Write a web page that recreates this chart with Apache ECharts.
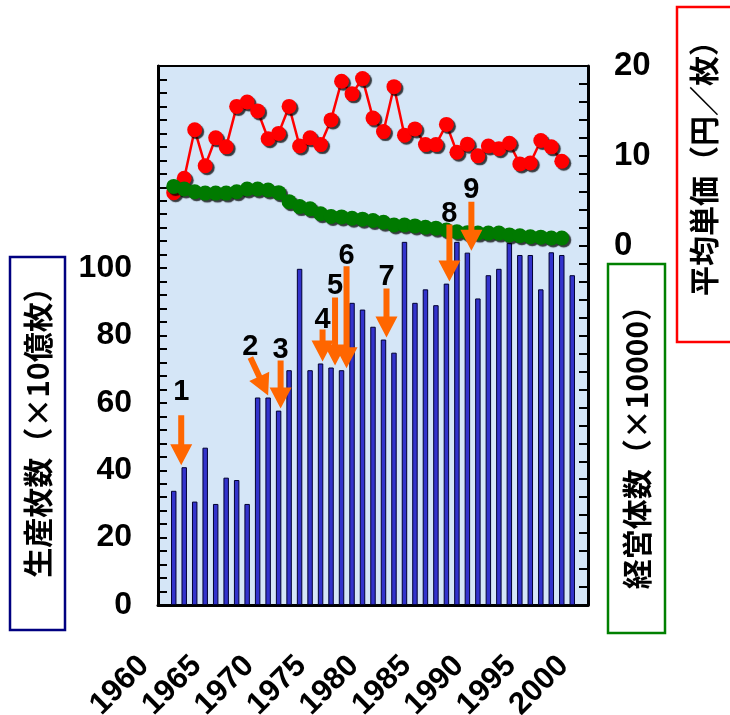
<!DOCTYPE html>
<html>
<head>
<meta charset="utf-8">
<script src="https://cdn.jsdelivr.net/npm/echarts@6.0.0/dist/echarts.min.js"></script>
<style>
  html, body { margin: 0; padding: 0; background: #fff; }
  #chart { width: 730px; height: 715px; }
</style>
</head>
<body>
<div id="chart"></div>
<script>
// 年（1960〜2000）
var years = ['1960', '1961', '1962', '1963', '1964', '1965', '1966', '1967', '1968', '1969',
  '1970', '1971', '1972', '1973', '1974', '1975', '1976', '1977', '1978', '1979',
  '1980', '1981', '1982', '1983', '1984', '1985', '1986', '1987', '1988', '1989',
  '1990', '1991', '1992', '1993', '1994', '1995', '1996', '1997', '1998', '1999', '2000'];

// 生産枚数（×10億枚）
var production = [null, 33.9, 40.9, 30.7, 46.7, 30.0, 37.8, 37.1, 30.0, 61.6,
  61.6, 57.7, 69.7, 99.8, 69.7, 71.7, 70.5, 69.7, 89.7, 87.7,
  82.6, 78.8, 74.9, 107.8, 89.7, 93.7, 89.0, 95.4, 107.8, 104.6,
  91.0, 97.9, 99.8, 107.5, 103.9, 103.9, 93.7, 104.7, 103.9, 97.9, null];

// 平均単価（円／枚）
var price = [null, 5.9, 7.5, 12.9, 8.9, 12.0, 11.0, 15.5, 16.0, 15.0,
  11.9, 12.5, 15.5, 11.1, 12.0, 11.25, 14.0, 18.3, 16.9, 18.6,
  14.2, 12.7, 17.7, 12.3, 13.0, 11.25, 11.25, 13.5, 10.4, 11.3,
  10.0, 11.1, 10.8, 11.4, 9.1, 9.2, 11.7, 11.0, 9.4, null, null];

// 経営体数（×10000）
var farms = [null, 6.6, 6.3, 6.0, 5.85, 5.85, 5.85, 6.0, 6.3, 6.3,
  6.2, 5.9, 4.9, 4.35, 4.1, 3.55, 3.25, 3.2, 3.05, 2.95,
  2.8, 2.6, 2.3, 2.3, 2.2, 2.05, 1.95, 1.75, 1.55, 1.45,
  1.4, 1.4, 1.4, 1.2, 1.1, 1.0, 0.95, 0.85, 0.85, null, null];

// 目盛ラベル
var xTickLabels = ['1960', '1965', '1970', '1975', '1980', '1985', '1990', '1995', '2000'];
var leftTickLabels = [0, 20, 40, 60, 80, 100];
var rightTickLabels = [0, 10, 20];

// 矢印の番号と指している年
var arrowNames = ['1', '2', '3', '4', '5', '6', '7', '8', '9'];
var arrowYears = ['1962', '1970', '1971', '1975', '1976', '1977', '1981', '1987', '1989'];

var chart = echarts.init(document.getElementById('chart'));

var numFont = 'Liberation Sans, Arial, sans-serif';
var jpFont = '"Noto Sans CJK JP", sans-serif';
var dotShadow = {
  shadowColor: 'rgba(0,0,0,0.75)',
  shadowOffsetX: 2,
  shadowOffsetY: 2,
  shadowBlur: 1
};

var option = {
  animation: false,
  grid: {
    left: 158, right: 142, top: 66, bottom: 110,
    show: true,
    backgroundColor: '#d5e6f7',
    borderColor: '#000',
    borderWidth: 2,
    outerBoundsMode: 'none'
  },
  xAxis: {
    type: 'category',
    data: years,
    axisLine: { lineStyle: { color: '#000', width: 3 } },
    axisTick: { inside: true, length: 8, interval: 0, lineStyle: { color: '#000', width: 2 } },
    axisLabel: {
      interval: 0,
      rotate: 45,
      margin: 37,
      padding: [0, 27, 0, 0],
      color: '#000',
      fontSize: 31,
      fontWeight: 'bold',
      fontFamily: numFont,
      formatter: function(v) {
        return xTickLabels.indexOf(v) >= 0 ? v : '';
      }
    },
    splitLine: { show: false }
  },
  yAxis: [{
    type: 'value',
    position: 'left',
    min: 0,
    max: 160,
    interval: 4,
    axisLine: { show: true, lineStyle: { color: '#000', width: 3 } },
    axisTick: { show: true, inside: true, length: 9, lineStyle: { color: '#000', width: 2 } },
    axisLabel: {
      margin: 26,
      color: '#000',
      fontSize: 32,
      fontWeight: 'bold',
      fontFamily: numFont,
      formatter: function(v) {
        return leftTickLabels.indexOf(v) >= 0 ? String(v) : '';
      }
    },
    splitLine: { show: false }
  }, {
    type: 'value',
    position: 'right',
    min: -40,
    max: 20,
    interval: 2,
    axisLine: { show: true, lineStyle: { color: '#000', width: 3 } },
    axisTick: { show: true, inside: true, length: 9, lineStyle: { color: '#000', width: 2 } },
    axisLabel: {
      margin: 26,
      color: '#000',
      fontSize: 33,
      fontWeight: 'bold',
      fontFamily: numFont,
      formatter: function(v) {
        return rightTickLabels.indexOf(v) >= 0 ? String(v) : '';
      }
    },
    splitLine: { show: false }
  }],
  series: [{
    name: '生産枚数',
    type: 'bar',
    yAxisIndex: 0,
    data: production,
    barWidth: '52%',
    itemStyle: { color: '#3333cc', borderColor: '#000033', borderWidth: 1 },
    z: 2
  }, {
    name: '平均単価',
    type: 'line',
    yAxisIndex: 1,
    data: price,
    symbol: 'circle',
    symbolSize: 15,
    showAllSymbol: true,
    lineStyle: { color: '#ff0000', width: 2.5 },
    itemStyle: Object.assign({ color: '#ff0000' }, dotShadow),
    z: 3
  }, {
    name: '経営体数',
    type: 'line',
    yAxisIndex: 1,
    data: farms,
    symbol: 'circle',
    symbolSize: 15,
    showAllSymbol: true,
    lineStyle: { color: '#007a00', width: 2.5 },
    itemStyle: Object.assign({ color: '#007a00' }, dotShadow),
    z: 4
  }]
};
chart.setOption(option);

// 矢印（棒の上端から計算）
var arrowLen = [50, 42, 48, 32, 68, 102, 49, 57, 49];
var arrowDx = [-3, 0, 2, 2, 4, 5, 3, 3, 4];
var arrowTilt = [0, 25, 0, 0, 0, 0, 0, 0, 0];
var labelGap = [23, 10, 11, 9, 12, 10, 12, 11, 12];

function arrowShape(tx, ty, len, tiltDeg) {
  var a = tiltDeg * Math.PI / 180;
  var dx = Math.sin(a), dy = Math.cos(a);
  var nx = -dy, ny = dx;
  var headLen = 21, headHalf = 11, shaftHalf = 3;
  var tailX = tx - dx * len, tailY = ty - dy * len;
  var bx = tx - dx * headLen, by = ty - dy * headLen;
  return {
    tail: [tailX, tailY],
    points: [
      [tailX + nx * shaftHalf, tailY + ny * shaftHalf],
      [bx + nx * shaftHalf, by + ny * shaftHalf],
      [bx + nx * headHalf, by + ny * headHalf],
      [tx, ty],
      [bx - nx * headHalf, by - ny * headHalf],
      [bx - nx * shaftHalf, by - ny * shaftHalf],
      [tailX - nx * shaftHalf, tailY - ny * shaftHalf]
    ]
  };
}

var graphics = [];
arrowYears.forEach(function(yr, i) {
  var idx = years.indexOf(yr);
  var p = chart.convertToPixel({ seriesIndex: 0 }, [idx, production[idx]]);
  var shape = arrowShape(p[0] + arrowDx[i], p[1] - 2, arrowLen[i], arrowTilt[i]);
  graphics.push({
    type: 'polygon',
    shape: { points: shape.points },
    style: { fill: '#ff6600' },
    z: 100
  });
  graphics.push({
    type: 'text',
    x: shape.tail[0],
    y: shape.tail[1] - labelGap[i],
    style: {
      text: arrowNames[i],
      fill: '#000',
      font: 'bold 29px ' + numFont,
      textAlign: 'center',
      textVerticalAlign: 'middle'
    },
    z: 101
  });
});

// 軸タイトルの枠
function titleBox(x, y, w, h, color, text, cx, cy) {
  graphics.push({
    type: 'rect',
    shape: { x: x, y: y, width: w, height: h },
    style: { fill: '#fff', stroke: color, lineWidth: 2.5 },
    z: 50
  });
  graphics.push({
    type: 'text',
    x: cx,
    y: cy,
    rotation: Math.PI / 2,
    style: {
      text: text,
      fill: '#000',
      font: 'bold 30px ' + jpFont,
      textAlign: 'center',
      textVerticalAlign: 'middle'
    },
    z: 51
  });
}
titleBox(10, 257, 55, 373, '#000080', '生産枚数（×10億枚）', 38, 425);
titleBox(608, 264, 57, 369, '#008000', '経営体数（×10000）', 637, 440);
titleBox(677, 7, 70, 335, '#ff0000', '平均単価（円／枚）', 704, 161);

chart.setOption({ graphic: graphics });
</script>
</body>
</html>
